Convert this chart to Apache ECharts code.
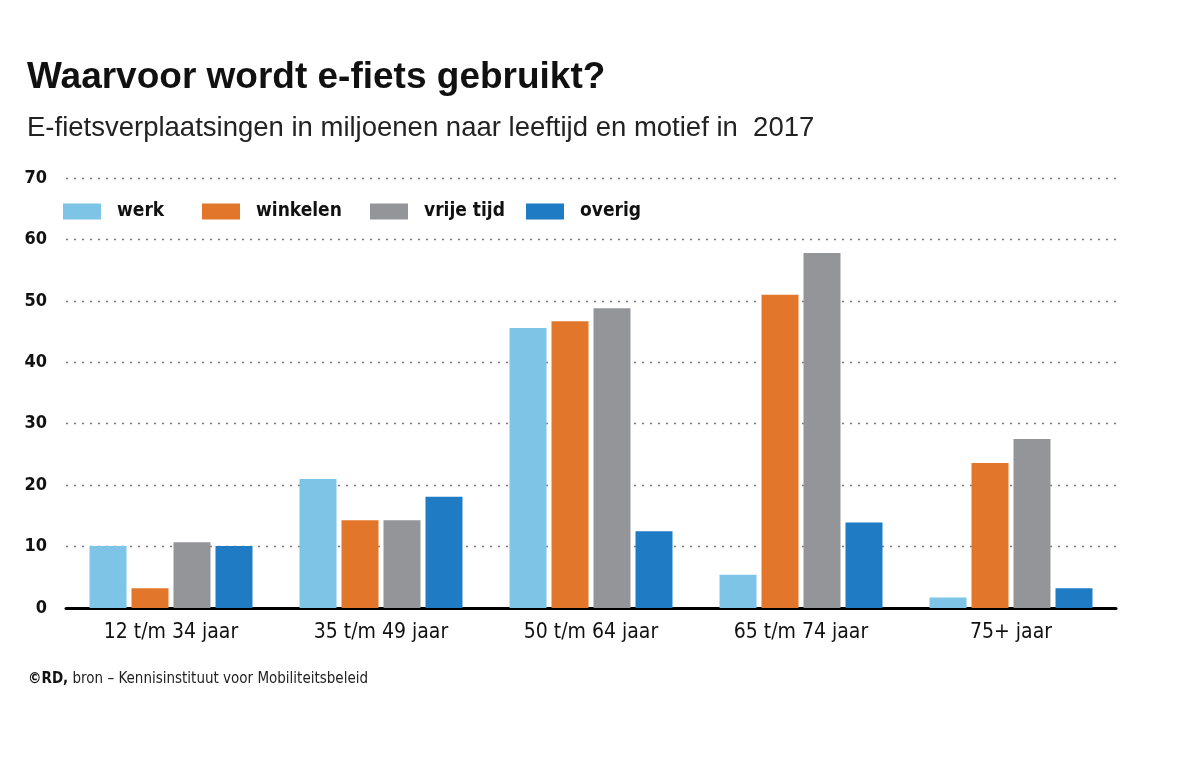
<!DOCTYPE html>
<html>
<head>
<meta charset="utf-8">
<script src="https://cdn.jsdelivr.net/npm/echarts@6/dist/echarts.min.js"></script>
<style>html,body{margin:0;padding:0;background:#fff}#c{width:1200px;height:768px}</style>
</head>
<body>
<div id="c"></div>
<script>
const categories = ['12 t/m 34 jaar', '35 t/m 49 jaar', '50 t/m 64 jaar', '65 t/m 74 jaar', '75+ jaar'];
const werk = [10.1, 21.0, 45.6, 5.4, 1.7];
const winkelen = [3.2, 14.3, 46.7, 51.0, 23.6];
const vrijeTijd = [10.7, 14.3, 48.8, 57.8, 27.5];
const overig = [10.1, 18.1, 12.5, 13.9, 3.2];
const seriesNames = ['werk', 'winkelen', 'vrije tijd', 'overig'];
const colors = ['#7DC4E6', '#E2762A', '#939598', '#1F7BC4'];
const yTicks = [0, 10, 20, 30, 40, 50, 60, 70];

const condensed = '"Liberation Sans Narrow", "DejaVu Sans Condensed", sans-serif';
const chart = echarts.init(document.getElementById('c'));
const legendLeft = [63, 202, 370, 526];
const values = [werk, winkelen, vrijeTijd, overig];

chart.setOption({
  animation: false,
  title: [
    { text: 'Waarvoor wordt e-fiets gebruikt?', left: 27, top: 59, padding: 0,
      textStyle: { fontFamily: '"Liberation Sans", Arial, sans-serif', fontWeight: 'bold', fontSize: 37, color: '#111' } },
    { text: 'E-fietsverplaatsingen in miljoenen naar leeftijd en motief in  2017', left: 27, top: 114, padding: 0,
      textStyle: { fontFamily: '"Liberation Sans", Arial, sans-serif', fontWeight: 'normal', fontSize: 27.5, color: '#222' } },
    { text: '{b|©RD,} bron – Kennisinstituut voor Mobiliteitsbeleid', left: 28, top: 672, padding: 0,
      textStyle: { rich: {
        b: { fontFamily: condensed, fontWeight: 'bold', fontSize: 15, color: '#111' }
      }, fontFamily: condensed, fontSize: 15, color: '#222', fontWeight: 'normal' } }
  ],
  legend: seriesNames.map((n, i) => ({
    data: [n], left: legendLeft[i], top: 202, padding: 0, itemWidth: 38, itemHeight: 16,
    icon: 'rect', selectedMode: false,
    textStyle: { fontFamily: condensed, fontWeight: 'bold', fontSize: 19, color: '#111', padding: [0, 0, 0, 11] }
  })),
  grid: { left: 66, right: 84, top: 178, bottom: 160, containLabel: false },
  xAxis: {
    type: 'category', data: categories,
    axisLine: { lineStyle: { color: '#000', width: 3 } },
    axisTick: { show: false },
    axisLabel: { margin: 14, fontFamily: condensed, fontSize: 21, color: '#111' }
  },
  yAxis: {
    type: 'value', min: 0, max: 70, interval: 10,
    axisLine: { show: false }, axisTick: { show: false },
    axisLabel: { margin: 19, fontFamily: condensed, fontWeight: 'bold', fontSize: 18, color: '#111',
      formatter: v => yTicks.includes(v) ? String(v) : '' },
    splitLine: { lineStyle: { type: [2, 6], color: '#777', width: 1.3 } }
  },
  series: seriesNames.map((n, i) => ({
    name: n, type: 'bar', data: values[i], barWidth: 37, barGap: '13.5%',
    itemStyle: { color: colors[i] }
  }))
});
</script>
</body>
</html>
